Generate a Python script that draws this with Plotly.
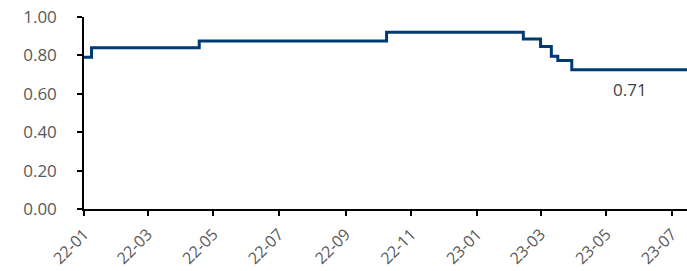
import plotly.graph_objects as go

# step dates and values
dates = ["2022-01-01", "2022-01-08", "2022-04-18", "2022-10-09", "2023-02-13",
         "2023-03-01", "2023-03-11", "2023-03-17", "2023-03-30", "2023-07-15"]
values = [0.79, 0.84, 0.875, 0.92, 0.885, 0.847, 0.795, 0.774, 0.725, 0.725]

tick_dates = ["2022-01-01", "2022-03-01", "2022-05-01", "2022-07-01", "2022-09-01",
              "2022-11-01", "2023-01-01", "2023-03-01", "2023-05-01", "2023-07-01"]
tick_labels = ["22-01", "22-03", "22-05", "22-07", "22-09",
               "22-11", "23-01", "23-03", "23-05", "23-07"]
y_ticks = [0.0, 0.2, 0.4, 0.6, 0.8, 1.0]
y_labels = ["0.00", "0.20", "0.40", "0.60", "0.80", "1.00"]

label_date = "2023-05-23"
label_value = 0.625
label_text = "0.71"

fig = go.Figure()
fig.add_trace(go.Scatter(x=dates, y=values, mode="lines", line_shape="hv",
                         line=dict(color="#003a70", width=3), showlegend=False,
                         hoverinfo="skip"))
fig.add_annotation(x=label_date, y=label_value, text=label_text, showarrow=False,
                   font=dict(size=17, color="#404040", family="Open Sans"))

fig.update_layout(
    width=687, height=271,
    margin=dict(l=84, r=0, t=17, b=62),
    paper_bgcolor="white", plot_bgcolor="white",
    font=dict(family="Open Sans", size=17, color="#595959"),
    xaxis=dict(range=["2022-01-01", "2023-07-15"], tickvals=tick_dates, ticktext=tick_labels,
               tickangle=-45, showline=True, linecolor="black", linewidth=1.5,
               ticks="outside", ticklen=5, tickcolor="black", tickwidth=1.5,
               tickfont=dict(size=16),
               showgrid=False, zeroline=False, automargin=False, ticklabelstandoff=3),
    yaxis=dict(range=[0, 1], tickvals=y_ticks, ticktext=y_labels,
               showline=True, linecolor="black", linewidth=1.5,
               ticks="outside", ticklen=5, tickcolor="black", tickwidth=1.5,
               showgrid=False, zeroline=False, ticklabelstandoff=17, automargin=False),
)
fig.write_html("out.html", config={"displayModeBar": False},
               post_script="document.body.style.margin='0';document.body.style.overflow='hidden';")
